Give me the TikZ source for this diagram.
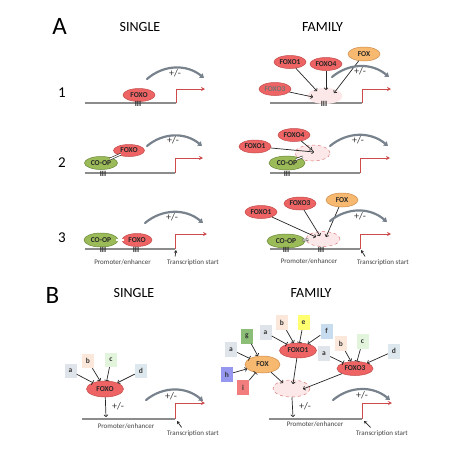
\documentclass[tikz,border=0pt]{standalone}
\usepackage{fontspec}
\setmainfont{Carlito}
\usetikzlibrary{shapes.geometric, arrows.meta}

\definecolor{foxored}{RGB}{238,100,100}
\definecolor{foxoline}{RGB}{195,75,75}
\definecolor{coopgreen}{RGB}{155,187,89}
\definecolor{coopline}{RGB}{105,135,55}
\definecolor{foxorange}{RGB}{247,184,112}
\definecolor{foxline}{RGB}{205,140,75}
\definecolor{sitepink}{RGB}{252,232,232}
\definecolor{siteline}{RGB}{220,120,120}
\definecolor{dnagray}{RGB}{140,140,140}
\definecolor{startred}{RGB}{205,75,75}
\definecolor{arcgray}{RGB}{120,130,140}
\definecolor{boxa}{RGB}{223,227,234}
\definecolor{boxb}{RGB}{252,232,218}
\definecolor{boxc}{RGB}{226,244,220}
\definecolor{boxd}{RGB}{221,232,238}
\definecolor{boxe}{RGB}{255,255,112}
\definecolor{boxf}{RGB}{200,220,240}
\definecolor{boxg}{RGB}{140,190,120}
\definecolor{boxh}{RGB}{150,152,240}
\definecolor{boxi}{RGB}{242,125,125}

\tikzset{
  panel/.style={font=\fontsize{25}{28}\selectfont},
  head/.style={font=\fontsize{14}{16}\selectfont},
  rownum/.style={font=\fontsize{15}{17}\selectfont},
  prot/.style={ellipse, inner sep=0, line width=0.5, text=black!85,
    font=\fontsize{7.5}{8}\selectfont\bfseries},
  foxo/.style={prot, draw=foxoline, fill=foxored, minimum width=32, minimum height=13},
  coop/.style={prot, draw=coopline, fill=coopgreen, minimum width=34, minimum height=14},
  fox/.style={prot, draw=foxline, fill=foxorange, minimum width=32, minimum height=14},
  site/.style={ellipse, inner sep=0, fill=sitepink, draw=siteline, dashed,
    line width=0.5, minimum width=35, minimum height=16},
  bsite/.style={inner sep=0, text=black!85, font=\fontsize{8}{8}\selectfont\bfseries},
  box/.style={rectangle, inner sep=0, minimum width=12, minimum height=15,
    text=black!80, font=\fontsize{7.5}{8}\selectfont\bfseries},
  pm/.style={text=black!80, font=\fontsize{10}{11}\selectfont},
  small/.style={text=black!75, font=\fontsize{7}{8}\selectfont},
  dna/.style={draw=dnagray, line width=1.4},
  start/.style={draw=startred, line width=1, -{Stealth[length=4pt,width=4pt]}},
  arc/.style={draw=arcgray, line width=2.2, line cap=round, -{Triangle[length=4pt,width=5.5pt]}},
  act/.style={draw=black!85, line width=0.7, -{To[length=2.5pt,width=4.5pt]}},
  inh/.style={draw=black!85, line width=0.7, -{Bar[width=5pt]}},
  bond/.style={draw=black!85, line width=0.6, double, double distance=1.2pt,
    shorten <=-2.5pt, shorten >=-2.5pt},
  tss/.style={draw=black!85, line width=0.7, -{Stealth[length=3pt,width=3.5pt]}}
}

\begin{document}
\begin{tikzpicture}[x=1pt, y=-1pt]
    \useasboundingbox (0,0) rectangle (474,448);

    % panel A headings
    \node[panel] (labA) at (59.5,26) {A};
    \node[head] (hsA) at (140,27.5) {SINGLE};
    \node[head] (hfA) at (322.5,27.5) {FAMILY};
    \node[rownum] (row1) at (62,93) {1};
    \node[rownum] (row2) at (62,163) {2};
    \node[rownum] (row3) at (62,237.5) {3};

    % row 1
    \draw[dna] (85,103) -- (176,103);
    \draw[start] (176,103) -- (176,89) -- (205,89);
    \node[foxo] (s1foxo) at (139,95) {FOXO};
    \node[bsite] (s1bs) at (138,104) {III};
    \coordinate (s1arcl) at (147,79);
    \coordinate (s1arcr) at (204,78);
    \draw[arc] (s1arcl) to[bend left=40] (s1arcr);
    \node[pm] (s1pm) at (175,73) {+/-};

    \draw[dna] (270,103) -- (362,103);
    \draw[start] (362,103) -- (362,89) -- (391,89);
    \node[site, draw=none] (f1site) at (325,96) {};
    \node[bsite] (f1bs) at (324,104) {III};
    \node[foxo] (f1foxo1) at (290,62) {FOXO1};
    \node[foxo] (f1foxo4) at (326,64) {FOXO4};
    \node[fox] (f1fox) at (364,54) {FOX};
    \node[foxo, text=black!55] (f1foxo3) at (275,89) {FOXO3};
    \coordinate (f1in1) at (317,91);
    \coordinate (f1in4) at (326,90);
    \coordinate (f1in3) at (313,97);
    \coordinate (f1inx) at (334,93);
    \draw[act] (f1foxo1) -- (f1in1);
    \draw[act] (f1foxo4) -- (f1in4);
    \draw[act] (f1foxo3) -- (f1in3);
    \draw[act] (f1fox) -- (f1inx);
    \coordinate (f1arcl) at (332,77);
    \coordinate (f1arcr) at (389,77);
    \draw[arc] (f1arcl) to[bend left=40] (f1arcr);
    \node[pm] (f1pm) at (360,71) {+/-};

    % row 2
    \draw[dna] (85,173) -- (175,173);
    \draw[start] (175,173) -- (175,158) -- (203,158);
    \node[coop, minimum width=33, minimum height=13] (s2coop) at (101,163) {CO-OP};
    \node[foxo, minimum width=31, minimum height=12] (s2foxo) at (129,150.5) {FOXO};
    \draw[bond] (s2coop) -- (s2foxo);
    \node[bsite] (s2bs) at (103,174) {III};
    \coordinate (s2arcl) at (147,146);
    \coordinate (s2arcr) at (202,146);
    \draw[arc] (s2arcl) to[bend left=40] (s2arcr);
    \node[pm] (s2pm) at (173,140) {+/-};

    \draw[dna] (270,173) -- (360,173);
    \draw[start] (360,173) -- (360,158) -- (390,158);
    \node[site] (f2site) at (312.5,153) {};
    \node[coop, minimum width=36] (f2coop) at (287,163) {CO-OP};
    \draw[bond, shorten <=-3pt, shorten >=-3pt] (f2coop) -- (f2site);
    \node[bsite] (f2bs) at (287,174) {III};
    \node[foxo] (f2foxo1) at (255,146.5) {FOXO1};
    \node[foxo] (f2foxo4) at (294,135) {FOXO4};
    \coordinate (f2in1) at (314,152);
    \coordinate (f2in4) at (312,150);
    \draw[act] (f2foxo1) -- (f2in1);
    \draw[act] (f2foxo4) -- (f2in4);
    \coordinate (f2arcl) at (330,146);
    \coordinate (f2arcr) at (388,146);
    \draw[arc] (f2arcl) to[bend left=40] (f2arcr);
    \node[pm] (f2pm) at (358,140) {+/-};

    % row 3
    \draw[dna] (85,249) -- (175,249);
    \draw[start] (175,249) -- (175,234) -- (207,234);
    \node[coop] (s3coop) at (101,240) {CO-OP};
    \node[foxo, minimum width=30] (s3foxo) at (137,240) {FOXO};
    \draw[bond] (s3coop) -- (s3foxo);
    \node[bsite] (s3bs1) at (103,250) {III};
    \node[bsite] (s3bs2) at (136,250) {III};
    \coordinate (s3arcl) at (145,223);
    \coordinate (s3arcr) at (203,223);
    \draw[arc] (s3arcl) to[bend left=40] (s3arcr);
    \node[pm] (s3pm) at (172,217) {+/-};
    \node[small] (s3prom) at (122.5,262) {Promoter/enhancer};
    \node[small] (s3tss) at (193,263) {Transcription start};
    \coordinate (s3tip) at (176,250);
    \draw[tss] (s3tss.160) -- (s3tip);

    \draw[dna] (270,249) -- (360,249);
    \draw[start] (360,249) -- (360,234) -- (391,234);
    \node[site, minimum width=34, minimum height=15] (f3site) at (323,239) {};
    \node[coop, minimum width=38] (f3coop) at (286,241) {CO-OP};
    \draw[bond] (f3coop) -- (f3site);
    \node[bsite] (f3bs1) at (286,250) {III};
    \node[bsite] (f3bs2) at (321,250) {III};
    \node[foxo] (f3foxo1) at (261,212) {FOXO1};
    \node[foxo] (f3foxo3) at (300,203.5) {FOXO3};
    \node[fox] (f3fox) at (342,200) {FOX};
    \coordinate (f3in1) at (316,237);
    \coordinate (f3in3) at (320,236);
    \coordinate (f3inx) at (326,237);
    \draw[act] (f3foxo1) -- (f3in1);
    \draw[act] (f3foxo3) -- (f3in3);
    \draw[act] (f3fox) -- (f3inx);
    \coordinate (f3arcl) at (330,221);
    \coordinate (f3arcr) at (387,222);
    \draw[arc] (f3arcl) to[bend left=40] (f3arcr);
    \node[pm] (f3pm) at (360,216) {+/-};
    \node[small] (f3prom) at (309,261.5) {Promoter/enhancer};
    \node[small] (f3tss) at (383,263) {Transcription start};
    \coordinate (f3tip) at (361,250);
    \draw[tss] (f3tss.160) -- (f3tip);

    % panel B headings
    \node[panel] (labB) at (52.5,295.5) {B};
    \node[head] (hsB) at (134,293) {SINGLE};
    \node[head] (hfB) at (311,293) {FAMILY};

    % B single
    \draw[dna] (82,419) -- (175,419);
    \draw[start] (175,419) -- (175,403) -- (205,403);
    \node[foxo, minimum width=37, minimum height=16] (bsfoxo) at (105,389) {FOXO};
    \node[box, fill=boxa, minimum height=14] (bsa) at (70.5,371) {a};
    \node[box, fill=boxb, minimum height=14] (bsb) at (88,361) {b};
    \node[box, fill=boxc, minimum height=14] (bsc) at (111,360) {c};
    \node[box, fill=boxd, minimum height=14] (bsd) at (141,371) {d};
    \draw[inh] (bsa) -- (bsfoxo);
    \draw[act] (bsb) -- (bsfoxo);
    \draw[inh] (bsc) -- (bsfoxo);
    \draw[act] (bsd) -- (bsfoxo);
    \coordinate (bsdna) at (106,417);
    \draw[act] (bsfoxo) -- (bsdna);
    \node[pm] (bspm1) at (118,406) {+/-};
    \coordinate (bsarcl) at (146,400);
    \coordinate (bsarcr) at (203,401);
    \draw[arc] (bsarcl) to[bend left=40] (bsarcr);
    \node[pm] (bspm2) at (171,396) {+/-};
    \node[small] (bsprom) at (126,426) {Promoter/enhancer};
    \node[small] (bstss) at (193,434) {Transcription start};
    \coordinate (bstip) at (177,421);
    \draw[tss] (bstss.150) -- (bstip);

    % B family
    \draw[dna] (269,419) -- (362,419);
    \draw[start] (362,419) -- (362,403) -- (392,403);
    \node[site, minimum width=37, minimum height=17] (bfsite) at (291.5,388.5) {};
    \node[fox, minimum width=35, minimum height=17] (bffox) at (262.5,364.5) {FOX};
    \node[foxo, minimum width=37, minimum height=15] (bffoxo1) at (298,350.5) {FOXO1};
    \node[foxo, minimum width=36, minimum height=14] (bffoxo3) at (355,368.5) {FOXO3};
    \node[box, fill=boxa] (bffa) at (231,349.5) {a};
    \node[box, fill=boxg] (bffg) at (247,336) {g};
    \node[box, fill=boxh] (bffh) at (227,374.5) {h};
    \node[box, fill=boxi] (bffi) at (243,387.5) {i};
    \node[box, fill=boxa] (bf1a) at (265.5,332.5) {a};
    \node[box, fill=boxb] (bf1b) at (282,322.5) {b};
    \node[box, fill=boxe] (bf1e) at (303.5,322.5) {e};
    \node[box, fill=boxf] (bf1f) at (326.5,331) {f};
    \node[box, fill=boxa] (bf3a) at (324,353.5) {a};
    \node[box, fill=boxb] (bf3b) at (341,343.5) {b};
    \node[box, fill=boxc] (bf3c) at (362.5,341.5) {c};
    \node[box, fill=boxd] (bf3d) at (394,351) {d};
    \draw[inh] (bffa) -- (bffox);
    \draw[act] (bffg) -- (bffox);
    \draw[act] (bffh) -- (bffox);
    \draw[inh] (bffi) -- (bffox);
    \draw[inh] (bf1a) -- (bffoxo1);
    \draw[act] (bf1b) -- (bffoxo1);
    \draw[inh] (bf1e) -- (bffoxo1);
    \draw[act] (bf1f) -- (bffoxo1);
    \draw[inh] (bf3a) -- (bffoxo3);
    \draw[act] (bf3b) -- (bffoxo3);
    \draw[inh] (bf3c) -- (bffoxo3);
    \draw[act] (bf3d) -- (bffoxo3);
    \coordinate (bfinx) at (283,383);
    \coordinate (bfin1) at (293,384);
    \coordinate (bfin3) at (303,389);
    \draw[act] (bffox) -- (bfinx);
    \draw[act] (bffoxo1) -- (bfin1);
    \draw[act] (bffoxo3) -- (bfin3);
    \coordinate (bfdna) at (293,417);
    \draw[act] (bfsite) -- (bfdna);
    \node[pm] (bfpm1) at (305,406) {+/-};
    \coordinate (bfarcl) at (333,400);
    \coordinate (bfarcr) at (390,400);
    \draw[arc] (bfarcl) to[bend left=40] (bfarcr);
    \node[pm] (bfpm2) at (362,395) {+/-};
    \node[small] (bfprom) at (315,424) {Promoter/enhancer};
    \node[small] (bftss) at (382,434) {Transcription start};
    \coordinate (bftip) at (364,421);
    \draw[tss] (bftss.150) -- (bftip);
\end{tikzpicture}
\end{document}
